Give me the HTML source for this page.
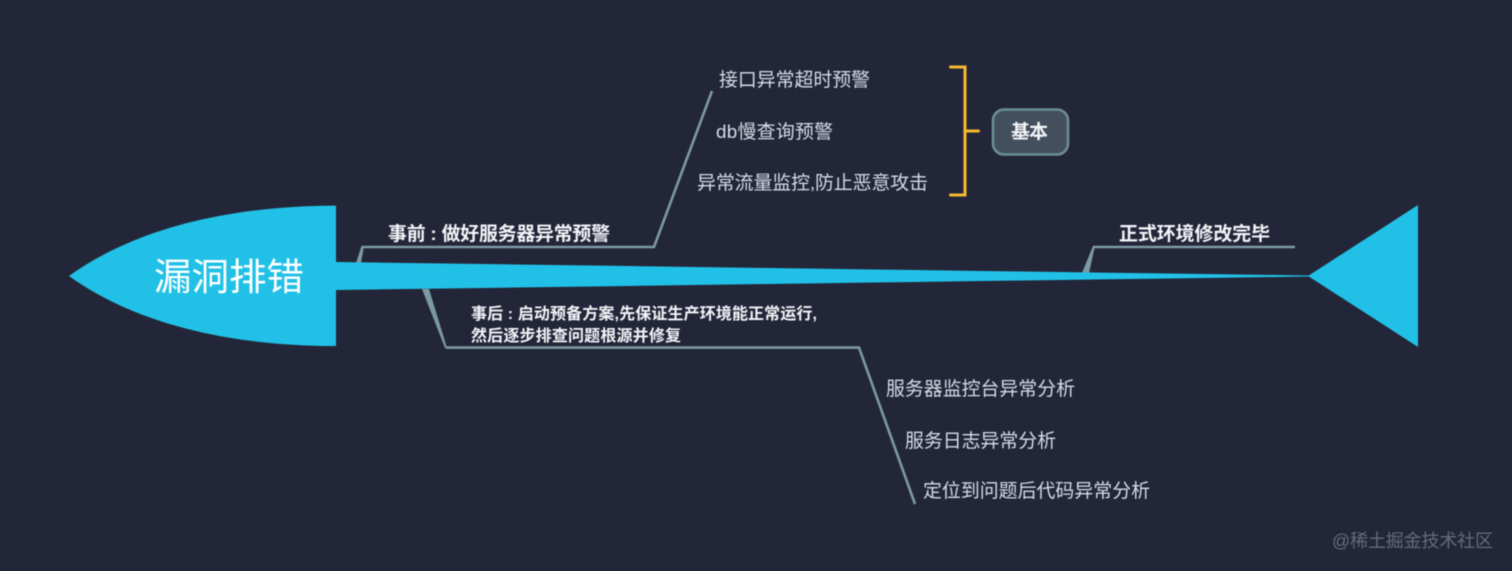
<!DOCTYPE html>
<html lang="zh">
<head>
<meta charset="utf-8">
<title>漏洞排错</title>
<style>
html,body{margin:0;padding:0;width:1512px;height:571px;overflow:hidden;background:#232639}
svg{display:block;filter:blur(0.45px)}
text{font-family:"Liberation Sans","Noto Sans CJK SC",sans-serif}
.sub{font-size:18.9px;fill:#d3dde6}
.lab{font-size:18.9px;font-weight:700;fill:#f3f5f8}
.lab2{font-size:16px;font-weight:700;fill:#f3f5f8}
</style>
</head>
<body>
<svg width="1512" height="571" viewBox="0 0 1512 571" xmlns="http://www.w3.org/2000/svg">
<rect width="1512" height="571" fill="#232639"/>
<g fill="#7c9aa3">
<polygon points="356,263 361,263 364,246 361.5,246"/>
<polygon points="1082,273 1089,273 1095,246 1093,246"/>
<polygon points="422,289 429,289 447,348 445,348"/>
</g>
<g fill="none" stroke="#7c9aa3" stroke-width="2.6">
<path d="M362 247H654L712 91"/>
<path d="M1093 247H1295"/>
<path d="M446 347.6H859L915 504"/>
</g>
<g fill="#21c1e7">
<path d="M69 276C130 232 220 206 336 205.6V262L1310 275.5V276.5L336 290V346C220 346 130 320 69 276Z"/>
<polygon points="1308,276 1418,205 1418,347"/>
</g>
<path d="M950.5 67H965V195H950.5M965 131H978.5" fill="none" stroke="#f5b82e" stroke-width="3" stroke-linecap="round" stroke-linejoin="miter"/>
<rect x="993" y="109.5" width="75" height="45" rx="11" fill="#434f5d" stroke="#6b8e98" stroke-width="2.6"/>
<text x="154" y="290" font-size="37.5" fill="#ffffff" textLength="150">漏洞排错</text>
<text class="lab" x="388" y="240" textLength="222">事前 : 做好服务器异常预警</text>
<text class="lab" x="1119" y="240" textLength="151">正式环境修改完毕</text>
<text class="lab2" x="471" y="319" textLength="346">事后 : 启动预备方案,先保证生产环境能正常运行,</text>
<text class="lab2" x="471" y="341" textLength="210">然后逐步排查问题根源并修复</text>
<text class="sub" x="719" y="86" textLength="151">接口异常超时预警</text>
<text class="sub" x="716" y="138" textLength="117">db慢查询预警</text>
<text class="sub" x="697" y="189" textLength="231">异常流量监控,防止恶意攻击</text>
<text class="lab" x="1011" y="138" textLength="37">基本</text>
<text class="sub" x="886" y="395" textLength="189">服务器监控台异常分析</text>
<text class="sub" x="905" y="447" textLength="151">服务日志异常分析</text>
<text class="sub" x="923" y="497" textLength="227">定位到问题后代码异常分析</text>
<text x="1332" y="547" font-size="18" fill="#666a7a" textLength="161">@稀土掘金技术社区</text>
</svg>
</body>
</html>
